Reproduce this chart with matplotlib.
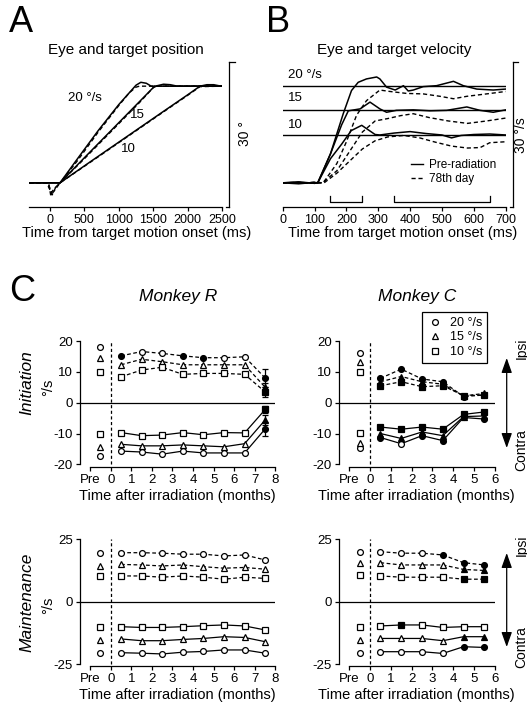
import matplotlib
matplotlib.use('Agg')
import matplotlib.pyplot as plt
from matplotlib.lines import Line2D

plt.rcParams['font.family'] = ['Liberation Sans', 'DejaVu Sans']
plt.rcParams['axes.unicode_minus'] = False
plt.rcParams['axes.linewidth'] = 0.9
plt.rcParams['xtick.major.width'] = 0.9
plt.rcParams['ytick.major.width'] = 0.9
plt.rcParams['xtick.major.size'] = 3
plt.rcParams['ytick.major.size'] = 3

# ---------------- A: eye position (deg) ----------------
pos_t_pre20 = [-300, 100, 145, 400, 700, 1000, 1150, 1250, 1320, 1400, 1470, 1550, 2500]
pos_pre20 = [0, 0, 0, 5.0, 10.8, 16.2, 18.6, 20.2, 20.8, 20.6, 20.0, 20.0, 20.0]
pos_t_day20 = [-300, -50, 0, 30, 80, 145, 400, 700, 1000, 1150, 1250, 1300, 1500, 2500]
pos_day20 = [0, 0, -1.5, -2.5, -1.0, 0, 4.6, 10.5, 16.0, 18.6, 19.8, 20.0, 20.0, 20.0]
pos_t_pre15 = [-300, 145, 500, 900, 1300, 1500, 1560, 1650, 1750, 1850, 2500]
pos_pre15 = [0, 0, 5.2, 11.0, 16.8, 19.7, 20.1, 20.4, 20.3, 20.0, 20.0]
pos_t_day15 = [-300, -30, 20, 60, 145, 500, 900, 1300, 1520, 1600, 2500]
pos_day15 = [0, 0, -2.0, -1.2, 0, 5.0, 10.8, 16.6, 20.0, 20.0, 20.0]
pos_t_pre10 = [-300, 145, 600, 1100, 1600, 2000, 2180, 2280, 2380, 2450, 2500]
pos_pre10 = [0, 0, 4.5, 9.4, 14.3, 18.2, 20.0, 20.3, 20.3, 20.1, 20.0]
pos_t_day10 = [-300, -20, 10, 70, 145, 600, 1100, 1600, 2000, 2180, 2500]
pos_day10 = [0, 0, -2.6, -1.5, 0, 4.4, 9.3, 14.2, 18.1, 19.9, 20.0]

# ---------------- B: eye velocity (deg/s) ----------------
target_speeds = [20, 15, 10]
vel_t_pre20 = [0, 50, 100, 110, 150, 190, 216, 237, 263, 295, 305, 326, 353, 379, 394, 410, 441, 483, 536, 567, 609, 661, 700]
vel_pre20 = [0.0, 0.2, -0.1, 0.0, 6.0, 14.3, 19.1, 20.8, 21.5, 21.9, 21.5, 19.8, 19.2, 20.1, 19.0, 19.2, 19.9, 20.1, 21.0, 20.1, 19.4, 19.2, 19.4]
vel_t_pre15 = [0, 50, 100, 110, 150, 185, 206, 243, 274, 305, 326, 357, 410, 462, 515, 578, 619, 661, 700]
vel_pre15 = [0.0, -0.2, 0.1, 0.0, 6.0, 12.0, 14.9, 15.3, 16.7, 15.3, 14.6, 15.0, 15.1, 14.9, 15.0, 15.7, 15.0, 14.6, 15.1]
vel_t_pre10 = [0, 50, 100, 110, 150, 185, 215, 248, 290, 305, 350, 400, 450, 500, 530, 560, 600, 650, 700]
vel_pre10 = [0.0, 0.1, -0.1, 0.0, 5.0, 8.0, 10.8, 11.9, 10.0, 9.9, 10.3, 10.6, 10.2, 9.9, 9.3, 9.8, 10.0, 10.1, 9.9]
vel_t_day20 = [0, 50, 100, 127, 170, 200, 232, 263, 305, 337, 389, 441, 494, 536, 578, 640, 700]
vel_day20 = [0.0, -0.1, 0.1, 0.0, 4.0, 8.5, 14.0, 17.0, 19.2, 18.9, 18.5, 18.4, 17.9, 17.4, 17.9, 18.4, 18.9]
vel_t_day15 = [0, 50, 100, 125, 170, 210, 250, 290, 330, 370, 410, 460, 520, 580, 640, 700]
vel_day15 = [0.0, 0.1, -0.1, 0.0, 2.5, 6.5, 10.5, 12.8, 13.3, 13.9, 14.3, 13.5, 12.8, 12.3, 12.8, 13.4]
vel_t_day10 = [0, 50, 100, 130, 170, 210, 250, 290, 330, 380, 430, 480, 530, 580, 620, 650, 700]
vel_day10 = [0.0, -0.1, 0.1, 0.0, 2.0, 4.5, 7.0, 8.7, 9.5, 9.8, 9.3, 8.4, 7.6, 7.2, 7.3, 8.3, 8.5]
windows = [(150, 250), (350, 650)]

# ---------------- C: summary ----------------
months_R = [0.5, 1.5, 2.5, 3.5, 4.5, 5.5, 6.5, 7.5]
months_C = [0.5, 1.5, 2.5, 3.5, 4.5, 5.5]
pre_x = -0.5
xtick_pos_R = [-1, 0, 1, 2, 3, 4, 5, 6, 7, 8]
xtick_lab_R = ['Pre', '0', '1', '2', '3', '4', '5', '6', '7', '8']
xtick_pos_C = [-1, 0, 1, 2, 3, 4, 5, 6]
xtick_lab_C = ['Pre', '0', '1', '2', '3', '4', '5', '6']

# Monkey R initiation
r_init_pre = {'o': (18.2, -17.3), '^': (14.6, -14.3), 's': (10.1, -10.2)}
r_init_ip20 = [15.2, 16.6, 16.0, 15.2, 14.6, 14.6, 14.9, 8.0]
r_init_ip15 = [12.3, 14.1, 13.3, 12.3, 12.3, 12.3, 12.3, 5.0]
r_init_ip10 = [8.4, 10.6, 11.5, 9.2, 9.5, 9.5, 9.2, 3.5]
r_init_co20 = [-15.7, -16.0, -16.7, -15.7, -16.3, -16.3, -16.3, -8.5]
r_init_co15 = [-13.5, -14.0, -14.0, -13.7, -14.0, -14.3, -13.3, -5.6]
r_init_co10 = [-9.7, -10.7, -10.5, -9.7, -10.4, -9.7, -9.8, -2.2]
r_init_f_ip20 = [1, 0, 0, 1, 1, 0, 0, 1]
r_init_f_ip15 = [0, 0, 0, 0, 0, 0, 0, 1]
r_init_f_ip10 = [0, 0, 0, 0, 0, 0, 0, 1]
r_init_f_co20 = [0, 0, 0, 0, 0, 0, 0, 1]
r_init_f_co15 = [0, 0, 0, 0, 0, 0, 0, 1]
r_init_f_co10 = [0, 0, 0, 0, 0, 0, 0, 1]
r_init_err_last = {'ip20': 2.8, 'ip15': 1.5, 'ip10': 1.5, 'co20': 2.3, 'co15': 1.5, 'co10': 1.0}

# Monkey C initiation
c_init_pre = {'o': (16.0, -14.8), '^': (13.3, -13.0), 's': (10.1, -9.7)}
c_init_ip20 = [7.9, 10.9, 7.7, 6.8, 2.0, 2.5]
c_init_ip15 = [6.8, 8.5, 6.8, 6.0, 2.2, 3.0]
c_init_ip10 = [5.5, 6.8, 5.2, 5.5, 2.3, 2.5]
c_init_co20 = [-11.3, -13.3, -10.7, -12.3, -4.8, -5.3]
c_init_co15 = [-10.0, -11.6, -9.5, -10.7, -4.5, -4.3]
c_init_co10 = [-7.9, -8.6, -7.9, -8.6, -3.8, -3.0]
c_init_f_ip20 = [1, 1, 1, 1, 1, 1]
c_init_f_ip15 = [1, 1, 1, 1, 1, 1]
c_init_f_ip10 = [1, 1, 1, 1, 1, 1]
c_init_f_co20 = [1, 0, 1, 1, 1, 1]
c_init_f_co15 = [1, 1, 1, 1, 1, 1]
c_init_f_co10 = [1, 1, 1, 1, 1, 1]

# Monkey R maintenance
r_main_pre = {'o': (19.4, -20.6), '^': (14.3, -15.3), 's': (10.3, -10.0)}
r_main_ip20 = [19.6, 19.6, 19.4, 19.0, 19.0, 18.3, 18.7, 16.7]
r_main_ip15 = [14.9, 14.7, 14.3, 14.7, 14.0, 13.4, 13.7, 13.0]
r_main_ip10 = [10.3, 10.3, 9.8, 10.3, 9.8, 9.0, 9.8, 9.3]
r_main_co20 = [-20.4, -20.6, -20.9, -20.2, -19.9, -19.3, -19.3, -20.6]
r_main_co15 = [-14.9, -15.6, -15.6, -15.1, -14.7, -14.0, -14.3, -16.0]
r_main_co10 = [-10.0, -10.3, -10.3, -10.0, -9.6, -9.3, -9.7, -11.3]
r_main_f = [0, 0, 0, 0, 0, 0, 0, 0]

# Monkey C maintenance
c_main_pre = {'o': (20.0, -20.4), '^': (15.3, -15.3), 's': (10.7, -10.0)}
c_main_ip20 = [20.0, 19.4, 19.4, 18.7, 15.6, 14.7]
c_main_ip15 = [15.6, 14.7, 14.7, 14.7, 12.9, 12.5]
c_main_ip10 = [10.3, 9.8, 9.8, 9.8, 9.0, 9.0]
c_main_co20 = [-20.0, -20.0, -20.0, -20.7, -18.0, -18.3]
c_main_co15 = [-14.7, -14.7, -14.7, -15.6, -14.0, -14.0]
c_main_co10 = [-9.7, -9.3, -9.3, -10.3, -10.0, -10.0]
c_main_f_ip20 = [0, 0, 0, 1, 1, 1]
c_main_f_ip15 = [0, 0, 0, 0, 1, 1]
c_main_f_ip10 = [0, 0, 0, 0, 1, 1]
c_main_f_co20 = [0, 0, 0, 0, 1, 1]
c_main_f_co15 = [0, 0, 0, 0, 1, 1]
c_main_f_co10 = [0, 1, 0, 0, 0, 0]

W, H = 527, 705
fig = plt.figure(figsize=(W / 100, H / 100), dpi=100)


def add_ax(x0, y0, x1, y1):
    # pixel box (top-left origin) -> figure fraction
    return fig.add_axes([x0 / W, 1 - y1 / H, (x1 - x0) / W, (y1 - y0) / H])


def ftext(x, y, s, **kw):
    fig.text(x / W, 1 - y / H, s, **kw)


TICK = 9
LAB = 10.5

# ---------- panel A ----------
axA = add_ax(29.4, 62, 222, 207)
for t, y in [(pos_t_pre20, pos_pre20), (pos_t_pre15, pos_pre15), (pos_t_pre10, pos_pre10)]:
    axA.plot(t, y, color='k', lw=1.1)
for t, y in [(pos_t_day20, pos_day20), (pos_t_day15, pos_day15), (pos_t_day10, pos_day10)]:
    axA.plot(t, y, color='k', lw=1.0, ls=(0, (3, 2)))
axA.set_xlim(-300, 2500)
axA.set_ylim(-5, 25)
axA.set_xticks([0, 500, 1000, 1500, 2000, 2500])
axA.set_yticks([])
for s in ['left', 'top', 'right']:
    axA.spines[s].set_visible(False)
axA.tick_params(axis='x', labelsize=TICK, pad=2)
axA.set_xlabel('Time from target motion onset (ms)', fontsize=LAB, labelpad=1)
axA.xaxis.set_label_coords((137 - 29.4) / 192.6, -0.13)
axA.plot([2600, 2600], [-5, 25], color='k', lw=0.9, clip_on=False)
axA.plot([2600, 2690], [25, 25], color='k', lw=0.9, clip_on=False)
axA.plot([2555, 2600], [-5, -5], color='k', lw=0.9, clip_on=False)
axA.text(509, 17.5, '20 °/s', fontsize=9.5, ha='center', va='center')
axA.text(1265, 14.1, '15', fontsize=9.5, ha='center', va='center')
axA.text(1134, 6.9, '10', fontsize=9.5, ha='center', va='center')
ftext(245, 134, '30 °', fontsize=10, rotation=90, ha='center', va='center')
axA.set_title('Eye and target position', fontsize=11, pad=5.5)

# ---------- panel B ----------
axB = add_ax(282.7, 62, 505.7, 207)
for v in target_speeds:
    axB.axhline(v, color='k', lw=1.0)
for t, y in [(vel_t_pre20, vel_pre20), (vel_t_pre15, vel_pre15), (vel_t_pre10, vel_pre10)]:
    axB.plot(t, y, color='k', lw=1.1)
for t, y in [(vel_t_day20, vel_day20), (vel_t_day15, vel_day15), (vel_t_day10, vel_day10)]:
    axB.plot(t, y, color='k', lw=1.0, ls=(0, (3, 2)))
for a, b in windows:
    axB.plot([a, a, b, b], [-2.7, -3.9, -3.9, -2.7], color='k', lw=0.9)
axB.set_xlim(0, 700)
axB.set_ylim(-5, 25)
axB.set_xticks(range(0, 701, 100))
axB.set_yticks([])
for s in ['left', 'top', 'right']:
    axB.spines[s].set_visible(False)
axB.tick_params(axis='x', labelsize=TICK, pad=2)
axB.set_xlabel('Time from target motion onset (ms)', fontsize=LAB, labelpad=1)
axB.xaxis.set_label_coords((403 - 282.7) / 223, -0.13)
axB.plot([723, 723], [-5, 25], color='k', lw=0.9, clip_on=False)
axB.plot([723, 738], [25, 25], color='k', lw=0.9, clip_on=False)
axB.plot([713, 723], [-5, -5], color='k', lw=0.9, clip_on=False)
axB.text(18, 22.4, '20 °/s', fontsize=9.5, va='center')
axB.text(18, 17.5, '15', fontsize=9.5, va='center')
axB.text(18, 12.0, '10', fontsize=9.5, va='center')
ftext(521, 135, '30 °/s', fontsize=10, rotation=90, ha='center', va='center')
axB.set_title('Eye and target velocity', fontsize=11, pad=5.5)
leg_h = [Line2D([], [], color='k', lw=1.0), Line2D([], [], color='k', lw=1.0, ls=(0, (3, 2)))]
axB.legend(leg_h, ['Pre-radiation', '78th day'], loc='upper left', frameon=False,
           bbox_to_anchor=(411 / W, 1 - 159 / H), bbox_transform=fig.transFigure,
           fontsize=8.5, handlelength=1.0, handletextpad=0.5, labelspacing=0.2,
           borderpad=0, borderaxespad=0)

ftext(9, 23, 'A', fontsize=26, ha='left', va='center')
ftext(266, 23, 'B', fontsize=26, ha='left', va='center')
ftext(9, 291, 'C', fontsize=26, ha='left', va='center')

# ---------- panel C ----------
MS = {'o': 4.2, '^': 4.8, 's': 4.2}


def series(ax, x, y, filled, marker, ls, err=None):
    ax.plot(x, y, color='k', lw=0.9, ls=ls, zorder=2, clip_on=False)
    if err is not None:
        ax.errorbar([x[-1]], [y[-1]], yerr=[err], fmt='none', ecolor='k',
                    elinewidth=0.9, capsize=2.5, capthick=0.9, zorder=2, clip_on=False)
    for xi, yi, f in zip(x, y, filled):
        ax.plot([xi], [yi], ls='none', marker=marker, ms=MS[marker], mec='k', mew=0.9,
                mfc='k' if f else 'white', zorder=3, clip_on=False)


def pre_points(ax, pre):
    for m, (up, dn) in pre.items():
        for v in (up, dn):
            ax.plot([pre_x], [v], ls='none', marker=m, ms=MS[m], mec='k', mew=0.9,
                    mfc='white', zorder=3, clip_on=False)


def style_c(ax, xmax, ylim, yt, xpos, xlab):
    ax.set_xlim(-1.5, xmax)
    ax.set_ylim(-ylim, ylim)
    for s in ['top', 'right']:
        ax.spines[s].set_visible(False)
    ax.spines['left'].set_bounds(yt[-1], yt[0])
    ax.spines['bottom'].set_bounds(-1, xmax)
    ax.set_yticks(yt)
    ax.set_xticks(xpos)
    ax.set_xticklabels(xlab)
    ax.tick_params(labelsize=TICK + 0.5, pad=2)
    ax.axhline(0, color='k', lw=0.9, zorder=1)
    ax.plot([0, 0], [yt[-1], yt[0]], color='k', lw=0.9, ls=(0, (2.5, 2)), zorder=1)
    ax.set_xlabel('Time after irradiation (months)', fontsize=LAB, labelpad=2)


dash = (0, (3, 2))

ax1 = add_ax(79.8, 338.6, 275.5, 466.8)
style_c(ax1, 8, 20.8, [20, 10, 0, -10, -20], xtick_pos_R, xtick_lab_R)
pre_points(ax1, r_init_pre)
series(ax1, months_R, r_init_ip20, r_init_f_ip20, 'o', dash, r_init_err_last['ip20'])
series(ax1, months_R, r_init_ip15, r_init_f_ip15, '^', dash, r_init_err_last['ip15'])
series(ax1, months_R, r_init_ip10, r_init_f_ip10, 's', dash, r_init_err_last['ip10'])
series(ax1, months_R, r_init_co20, r_init_f_co20, 'o', '-', r_init_err_last['co20'])
series(ax1, months_R, r_init_co15, r_init_f_co15, '^', '-', r_init_err_last['co15'])
series(ax1, months_R, r_init_co10, r_init_f_co10, 's', '-', r_init_err_last['co10'])
ax1.set_title('Monkey R', fontsize=12.5, style='italic', pad=27)

ax2 = add_ax(338.8, 338.6, 494.8, 466.8)
style_c(ax2, 6, 20.8, [20, 10, 0, -10, -20], xtick_pos_C, xtick_lab_C)
pre_points(ax2, c_init_pre)
series(ax2, months_C, c_init_ip20, c_init_f_ip20, 'o', dash)
series(ax2, months_C, c_init_ip15, c_init_f_ip15, '^', dash)
series(ax2, months_C, c_init_ip10, c_init_f_ip10, 's', dash)
series(ax2, months_C, c_init_co20, c_init_f_co20, 'o', '-')
series(ax2, months_C, c_init_co15, c_init_f_co15, '^', '-')
series(ax2, months_C, c_init_co10, c_init_f_co10, 's', '-')
ax2.set_title('Monkey C', fontsize=12.5, style='italic', pad=27)
mk = [Line2D([], [], ls='none', marker=m, ms=MS[m], mec='k', mew=0.9, mfc='white') for m in ['o', '^', 's']]
leg = ax2.legend(mk, ['20 °/s', '15 °/s', '10 °/s'], loc='upper left',
                 bbox_to_anchor=(422 / W, 1 - 312 / H), bbox_transform=fig.transFigure,
                 fontsize=9, frameon=True, fancybox=False, edgecolor='k', framealpha=1,
                 handlelength=1.2, handletextpad=0.6, labelspacing=0.2, borderpad=0.4,
                 borderaxespad=0)
leg.get_frame().set_linewidth(0.9)

ax3 = add_ax(79.8, 537.2, 275.5, 666.2)
style_c(ax3, 8, 25.8, [25, 0, -25], xtick_pos_R, xtick_lab_R)
pre_points(ax3, r_main_pre)
series(ax3, months_R, r_main_ip20, r_main_f, 'o', dash)
series(ax3, months_R, r_main_ip15, r_main_f, '^', dash)
series(ax3, months_R, r_main_ip10, r_main_f, 's', dash)
series(ax3, months_R, r_main_co20, r_main_f, 'o', '-')
series(ax3, months_R, r_main_co15, r_main_f, '^', '-')
series(ax3, months_R, r_main_co10, r_main_f, 's', '-')

ax4 = add_ax(338.8, 537.2, 494.8, 666.2)
style_c(ax4, 6, 25.8, [25, 0, -25], xtick_pos_C, xtick_lab_C)
pre_points(ax4, c_main_pre)
series(ax4, months_C, c_main_ip20, c_main_f_ip20, 'o', dash)
series(ax4, months_C, c_main_ip15, c_main_f_ip15, '^', dash)
series(ax4, months_C, c_main_ip10, c_main_f_ip10, 's', dash)
series(ax4, months_C, c_main_co20, c_main_f_co20, 'o', '-')
series(ax4, months_C, c_main_co15, c_main_f_co15, '^', '-')
series(ax4, months_C, c_main_co10, c_main_f_co10, 's', '-')

# row labels
ftext(27, 383, 'Initiation', fontsize=12.5, style='italic', rotation=90, ha='center', va='center')
ftext(48, 387, '°/s', fontsize=10.5, rotation=90, ha='center', va='center')
ftext(27, 602, 'Maintenance', fontsize=12.5, style='italic', rotation=90, ha='center', va='center')
ftext(48, 605, '°/s', fontsize=10.5, rotation=90, ha='center', va='center')

# ipsi / contra arrows
for top, bot, yi, yc in [(358, 448, 348, 450), (553, 647, 545, 647)]:
    fig.add_artist(matplotlib.patches.FancyArrowPatch(
        (506.7 / W, 1 - top / H), (506.7 / W, 1 - bot / H), transform=fig.transFigure,
        arrowstyle='<|-|>,head_length=0.9,head_width=0.32', mutation_scale=10,
        color='k', lw=0.9, shrinkA=0, shrinkB=0))
    ftext(521.5, yi, 'Ipsi', fontsize=10, rotation=90, ha='center', va='center')
    ftext(521.5, yc, 'Contra', fontsize=10, rotation=90, ha='center', va='center')

fig.savefig('out.png', dpi=100)
